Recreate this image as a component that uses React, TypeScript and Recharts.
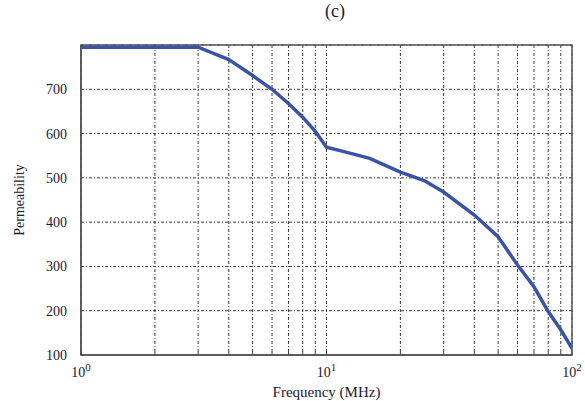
import React from "react";
import { LineChart, Line, XAxis, YAxis, CartesianGrid, ReferenceArea } from "recharts";

const freqs = [1, 2, 3, 4, 5, 6, 7, 8, 9, 10, 12, 15, 20, 25, 30, 40, 50, 60, 70, 80, 90, 100];
const permeability = [795, 795, 795, 767, 731, 700, 668, 637, 605, 569, 558, 544, 513, 494, 468, 416, 367, 303, 254, 198, 157, 115];
const xGridTicks = [1, 2, 3, 4, 5, 6, 7, 8, 9, 10, 20, 30, 40, 50, 60, 70, 80, 90, 100];
const xLabelTicks: Record<number, string> = { 1: "0", 10: "1", 100: "2" };
const yTicks = [100, 200, 300, 400, 500, 600, 700];

const data = freqs.map((f, i) => ({ f, p: permeability[i] }));

const FONT = "'Liberation Serif', 'DejaVu Serif', serif";
const TXT = "#1a1a2e";

const XTick = (props: any) => {
  const { x, y, payload } = props;
  const exp = xLabelTicks[payload.value];
  return (
    <g>
      <line x1={x} x2={x} y1={y - 8} y2={y - 11} stroke="#444" strokeWidth={1} />
      {exp !== undefined && (
        <text x={x} y={y + 14} textAnchor="middle" fontFamily={FONT} fontSize={14} fill={TXT}>
          10
          <tspan dy={-6} fontSize={11}>{exp}</tspan>
        </text>
      )}
    </g>
  );
};

export default function App() {
  return (
    <div style={{ position: "absolute", left: 0, top: 0, width: 585, height: 401, background: "#fff" }}>
      <div style={{ position: "absolute", left: 325, top: 1, fontFamily: FONT, fontSize: 18, lineHeight: "21px", color: TXT }}>(c)</div>
      <LineChart width={585} height={401} data={data} margin={{ top: 45, right: 13, bottom: 0, left: 0 }}>
        <CartesianGrid stroke="#222" strokeDasharray="3 2 1 2" strokeWidth={0.9} />
        <XAxis
          dataKey="f"
          type="number"
          scale="log"
          domain={[1, 100]}
          ticks={xGridTicks}
          interval={0}
          allowDataOverflow
          tick={<XTick />}
          tickLine={false}
          tickSize={0}
          tickMargin={8}
          height={46}
          stroke="#555"
          strokeWidth={1.5}
          label={{ value: "Frequency (MHz)", position: "insideBottom", offset: 4, fontFamily: FONT, fontSize: 15, fill: TXT }}
        />
        <YAxis
          type="number"
          domain={[100, 800]}
          ticks={yTicks}
          interval={0}
          allowDataOverflow
          width={81}
          tickLine={false}
          tickMargin={8}
          stroke="#555"
          strokeWidth={1.5}
          tick={{ fontFamily: FONT, fontSize: 14, fill: TXT }}
          label={{ value: "Permeability", angle: -90, position: "insideLeft", offset: 19, fontFamily: FONT, fontSize: 14, fill: TXT, style: { textAnchor: "middle" } }}
        />
        <ReferenceArea x1={1} x2={100} y1={100} y2={800} fill="none" stroke="#555" strokeWidth={1.5} ifOverflow="visible" />
        <Line type="linear" dataKey="p" stroke="#3a53a4" strokeWidth={3.5} dot={false} isAnimationActive={false} />
      </LineChart>
    </div>
  );
}
